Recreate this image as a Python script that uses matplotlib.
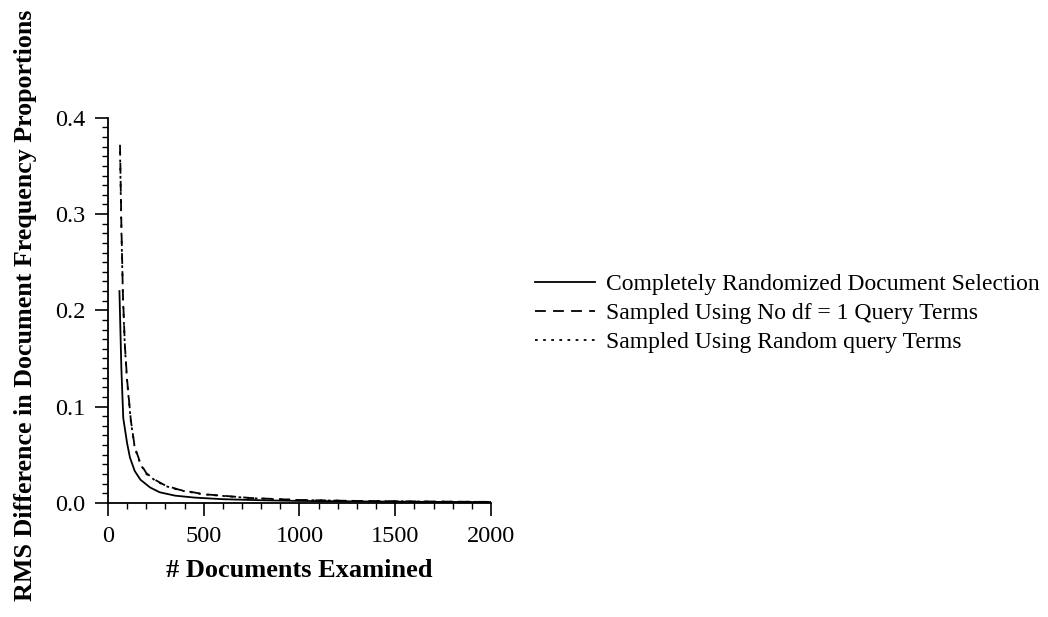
import matplotlib
matplotlib.use("Agg")
import matplotlib.pyplot as plt
from matplotlib.ticker import MultipleLocator

plt.rcParams["font.family"] = ["Liberation Serif", "DejaVu Serif"]

# # documents examined vs RMS difference
x_rand = [60, 70, 80, 100, 115, 140, 170, 220, 270, 350, 450, 600, 800, 1000, 1300, 1600, 2000]
y_rand = [0.22, 0.14, 0.088, 0.062, 0.047, 0.033, 0.024, 0.016, 0.011, 0.0075, 0.0055,
          0.0038, 0.0027, 0.002, 0.0015, 0.0011, 0.0008]

x_nodf = [63, 70, 78, 88, 100, 120, 140, 170, 200, 245, 300, 375, 500, 750, 1000, 1300, 1600, 2000]
y_nodf = [0.372, 0.29, 0.218, 0.165, 0.128, 0.085, 0.058, 0.041, 0.031, 0.024, 0.018, 0.0135,
          0.009, 0.005, 0.003, 0.002, 0.0015, 0.001]

x_qry = [63, 70, 78, 88, 100, 120, 140, 170, 200, 245, 300, 375, 500, 750, 1000, 1300, 1600, 2000]
y_qry = [0.365, 0.285, 0.215, 0.163, 0.126, 0.084, 0.057, 0.040, 0.030, 0.0235, 0.0175, 0.013,
         0.0088, 0.0048, 0.0029, 0.002, 0.0014, 0.001]

labels = ["Completely Randomized Document Selection",
          "Sampled Using No df = 1 Query Terms",
          "Sampled Using Random query Terms"]

fig = plt.figure(figsize=(10.48, 6.17), dpi=100)
ax = fig.add_axes([0.103, 0.185, 0.3655, 0.624])

l1, = ax.plot(x_rand, y_rand, "-", color="black", lw=1.3)
l2, = ax.plot(x_nodf, y_nodf, color="black", lw=1.3, ls=(0, (6, 4)))
l3, = ax.plot(x_qry, y_qry, color="black", lw=1.3, ls=(0, (1.5, 3)))

ax.set_xlim(0, 2000)
ax.set_ylim(0, 0.4)
ax.xaxis.set_major_locator(MultipleLocator(500))
ax.xaxis.set_minor_locator(MultipleLocator(100))
ax.yaxis.set_major_locator(MultipleLocator(0.1))
ax.yaxis.set_minor_locator(MultipleLocator(0.01))
ax.yaxis.set_major_formatter(plt.FuncFormatter(lambda v, p: f"{v:.1f}"))
ax.tick_params(which="major", length=9.5, width=1.2, labelsize=17.5, direction="out", pad=7)
ax.tick_params(which="minor", length=4.5, width=1.0, direction="out")
for s in ["top", "right"]:
    ax.spines[s].set_visible(False)
for s in ["left", "bottom"]:
    ax.spines[s].set_linewidth(1.3)

ax.set_xlabel("# Documents Examined", fontsize=19, fontweight="bold", labelpad=9)
fig.text(0.024, 0.505, "RMS Difference in Document Frequency Proportions",
         rotation=90, fontsize=18.7, fontweight="bold", ha="center", va="center")

fig.legend([l1, l2, l3], labels, loc="upper left", bbox_to_anchor=(0.490, 0.591),
           frameon=False, fontsize=17, handlelength=2.55, handletextpad=0.47,
           labelspacing=0.31)

fig.savefig("out.png", dpi=100)
